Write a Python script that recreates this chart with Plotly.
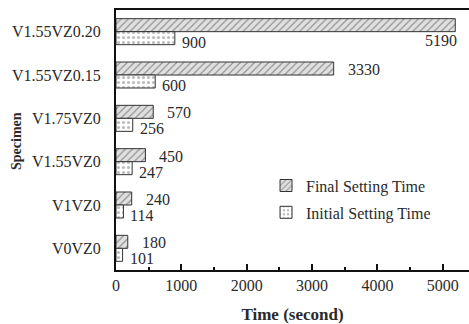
import plotly.graph_objects as go

categories = ["V1.55VZ0.20", "V1.55VZ0.15", "V1.75VZ0", "V1.55VZ0", "V1VZ0", "V0VZ0"]
final_time = [5190, 3330, 570, 450, 240, 180]
initial_time = [900, 600, 256, 247, 114, 101]
x_ticks = [0, 1000, 2000, 3000, 4000, 5000]

FONT = "Liberation Serif"
TXT = "#2a2a2a"
L, R, T, B, W, H = 116, 0, 10, 54, 469, 324

fig = go.Figure()
fig.add_trace(go.Bar(
    y=categories, x=final_time, orientation="h", name="Final Setting Time",
    legendgroup="f",
    marker=dict(color="#d9d9d9", line=dict(color="#333333", width=1),
                pattern=dict(shape="/", fgcolor="#444444", bgcolor="#e0e0e0", size=5, solidity=0.25)),
))
fig.add_trace(go.Bar(
    y=categories, x=initial_time, orientation="h", name="Initial Setting Time",
    legendgroup="i",
    marker=dict(color="white", line=dict(color="#333333", width=1),
                pattern=dict(shape=".", fgcolor="#777777", bgcolor="white", size=5, solidity=0.3)),
))

xmax = 5400
annotations = []
for c, v in zip(categories, final_time):
    if v > 0.9 * xmax:
        annotations.append(dict(x=v, y=c, xref="x", yref="y", text=str(v), showarrow=False,
                                xanchor="right", yanchor="middle", xshift=4, yshift=-9,
                                font=dict(family=FONT, size=16, color=TXT)))
    else:
        annotations.append(dict(x=v, y=c, xref="x", yref="y", text=str(v), showarrow=False,
                                xanchor="left", yanchor="bottom", xshift=12, yshift=-4,
                                height=16, font=dict(family=FONT, size=16, color=TXT)))
for c, v in zip(categories, initial_time):
    annotations.append(dict(x=v, y=c, xref="x", yref="y", text=str(v), showarrow=False,
                            xanchor="left", yanchor="top", xshift=5, yshift=0,
                            height=16, font=dict(family=FONT, size=16, color=TXT)))

pw = W - L - R
ph = H - T - B
annotations.append(dict(text="<b>Specimen</b>", xref="paper", yref="paper",
                        x=-(L - 16) / pw, y=(H - B - 141) / ph, textangle=-90,
                        showarrow=False, xanchor="center", yanchor="middle",
                        font=dict(family=FONT, size=14, color=TXT)))

fig.update_layout(
    width=W, height=H,
    margin=dict(l=L, r=R, t=T, b=B, autoexpand=False),
    paper_bgcolor="white", plot_bgcolor="white",
    barmode="group", bargap=0.4, bargroupgap=0,
    font=dict(family=FONT, size=16, color=TXT),
    showlegend=True,
    legend=dict(x=0.425, y=0.39, xanchor="left", yanchor="top", traceorder="grouped",
                bgcolor="rgba(0,0,0,0)", font=dict(family=FONT, size=16, color=TXT),
                itemwidth=30, tracegroupgap=3),
    annotations=annotations,
)
fig.update_xaxes(
    range=[0, xmax], tickvals=x_ticks, ticktext=[str(t) for t in x_ticks],
    showgrid=False, zeroline=False, automargin=False,
    showline=True, linecolor="#111111", linewidth=2, mirror=True,
    ticks="inside", ticklen=6, tickwidth=1.5, tickcolor="#111111",
    minor=dict(ticks="inside", ticklen=3, tickwidth=1.5, tickcolor="#111111", dtick=500, tick0=0),
    tickfont=dict(family=FONT, size=16, color=TXT),
    title=dict(text="<b>Time (second)</b>", font=dict(family=FONT, size=17, color=TXT), standoff=16),
)
fig.update_yaxes(
    autorange="reversed", showgrid=False, zeroline=False, automargin=False,
    showline=True, linecolor="#111111", linewidth=2,
    ticks="", ticklabelstandoff=10,
    tickfont=dict(family=FONT, size=16, color=TXT),
)

fig.write_html("out.html")
